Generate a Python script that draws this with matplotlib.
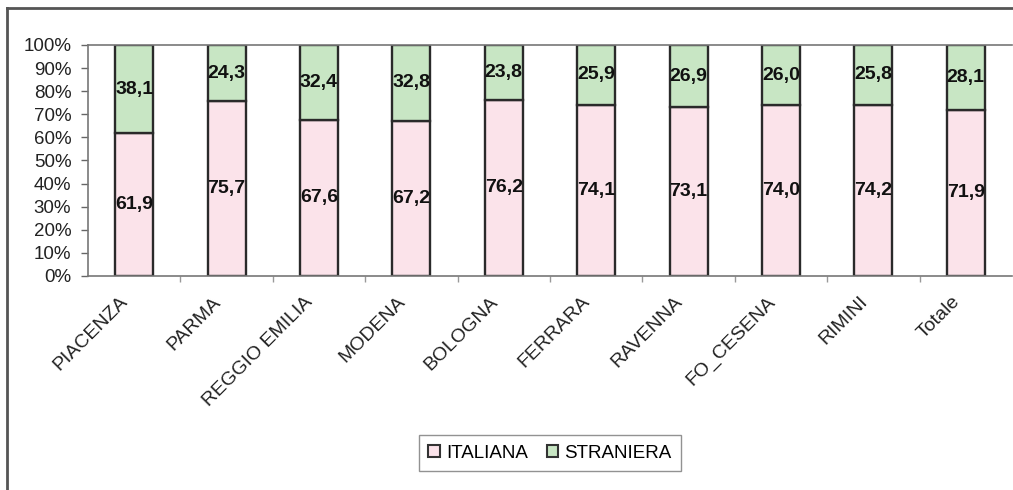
import matplotlib.pyplot as plt
import numpy as np
from matplotlib.patches import Rectangle
from matplotlib.lines import Line2D

province = ["PIACENZA", "PARMA", "REGGIO EMILIA", "MODENA", "BOLOGNA",
            "FERRARA", "RAVENNA", "FO_CESENA", "RIMINI", "Totale"]
italiana = [61.9, 75.7, 67.6, 67.2, 76.2, 74.1, 73.1, 74.0, 74.2, 71.9]
straniera = [38.1, 24.3, 32.4, 32.8, 23.8, 25.9, 26.9, 26.0, 25.8, 28.1]
serie = ["ITALIANA", "STRANIERA"]

col_ita = "#fbe3ea"
col_str = "#c8e6c4"

plt.rcParams["font.family"] = ["Liberation Sans", "DejaVu Sans"]

fig = plt.figure(figsize=(10.13, 4.9), dpi=100)
ax = fig.add_axes([88 / 1013, (490 - 276) / 490, 924 / 1013, 231 / 490])

x = np.arange(len(province))
ita = np.array(italiana)
stra = np.array(straniera)
w = 0.41
ax.bar(x, ita, w, color=col_ita, edgecolor="#2a2a2a", linewidth=1.7, label=serie[0])
ax.bar(x, stra, w, bottom=ita, color=col_str, edgecolor="#2a2a2a", linewidth=1.7, label=serie[1])

def fmt(v):
    return f"{v:.1f}".replace(".", ",")

for xi, a, b in zip(x, ita, stra):
    ax.text(xi, a / 2, fmt(a), ha="center", va="center", fontsize=14,
            fontweight="bold", color="#111111")
    ax.text(xi, a + b / 2, fmt(b), ha="center", va="center", fontsize=14,
            fontweight="bold", color="#111111")

ax.set_xlim(-0.5, len(province) - 0.5)
ax.set_ylim(0, 100)
ax.set_yticks(np.arange(0, 101, 10))
ax.set_yticklabels([f"{v}%" for v in range(0, 101, 10)], fontsize=13.5, color="#222222")
ax.tick_params(axis="y", length=5, width=1, color="#666666", pad=7)

# category ticks sit between the bars
ax.set_xticks(x[:-1] + 0.5, minor=False)
ax.set_xticklabels([])
ax.tick_params(axis="x", length=4, width=1, color="#999999", direction="out")
for xi, name in zip(x, province):
    ax.text(xi - 0.16, -7.5, name, rotation=45, ha="right", va="top",
            rotation_mode="anchor", fontsize=14, color="#222222",
            transform=ax.transData, clip_on=False)

ax.spines["right"].set_visible(False)
for s in ["left", "bottom", "top"]:
    ax.spines[s].set_color("#777777")
    ax.spines[s].set_linewidth(1.2)

handles = [Rectangle((0, 0), 1, 1, facecolor=col_ita, edgecolor="#333333", linewidth=1.5),
           Rectangle((0, 0), 1, 1, facecolor=col_str, edgecolor="#333333", linewidth=1.5)]
leg = fig.legend(handles, serie, loc="center", bbox_to_anchor=(550 / 1013, 1 - 453 / 490),
                 ncol=2, fontsize=13.5, frameon=True, fancybox=False,
                 handlelength=0.6, handleheight=0.6, handletextpad=0.35,
                 columnspacing=1.0, borderpad=0.5, borderaxespad=0)
leg.get_frame().set_edgecolor("#777777")
leg.get_frame().set_linewidth(1)

# outer frame, only left and top edges visible
fig.add_artist(Line2D([7 / 1013, 7 / 1013], [0, 1 - 8 / 490], color="#555555", linewidth=2))
fig.add_artist(Line2D([7 / 1013, 1], [1 - 8 / 490, 1 - 8 / 490], color="#555555", linewidth=2))

plt.savefig("out.png", dpi=100)
